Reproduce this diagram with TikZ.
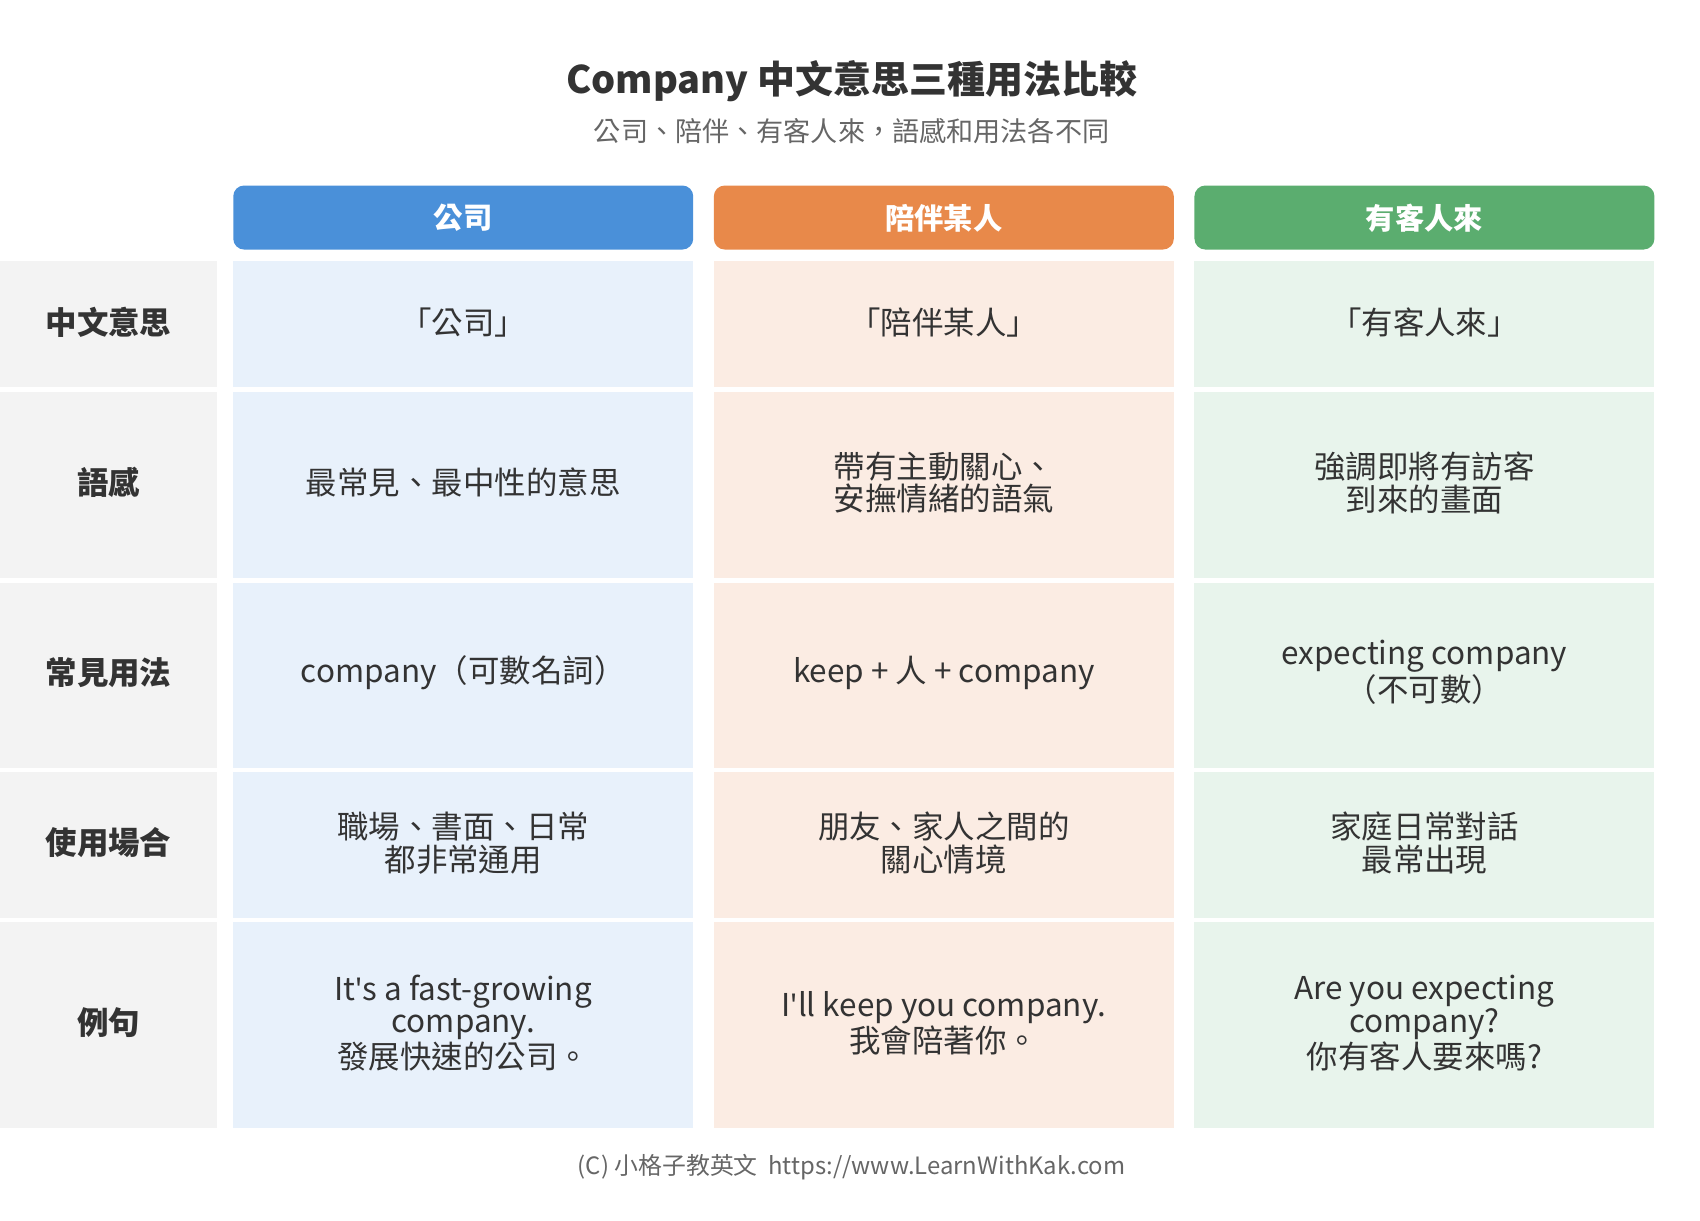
\documentclass[tikz,border=0pt]{standalone}
\usepackage{fontspec}
\setmainfont{Noto Sans CJK TC}
\newfontfamily\latfont{Noto Sans}
\usetikzlibrary{positioning}
\definecolor{txtcolor}{RGB}{51,51,51}
\definecolor{subcolor}{RGB}{102,102,102}
\definecolor{labelbg}{RGB}{243,243,243}
\definecolor{bluehead}{RGB}{74,144,217}
\definecolor{orangehead}{RGB}{232,137,74}
\definecolor{greenhead}{RGB}{91,173,111}
\definecolor{bluecell}{RGB}{232,241,251}
\definecolor{orangecell}{RGB}{251,236,227}
\definecolor{greencell}{RGB}{232,244,236}
\newcommand{\apos}{{\latfont\char"0027}}

\begin{document}
\begin{tikzpicture}[%
    x=0.5pt, y=-0.5pt,          % pixel grid, top-down
    every node/.style={text=txtcolor, font=\fontsize{14.5}{15}\selectfont},
    ]
\tikzset{
  head/.style={rounded corners=4pt, text=white, font=\bfseries\fontsize{13.5}{15}\selectfont},
  cell/.style={align=center},
  lab/.style={font=\bfseries\fontsize{14.5}{15}\selectfont},
}
\useasboundingbox (0,0) rectangle (1567,1125);

% title
\node (title) at (785,75) {\bfseries\fontsize{17.5}{19}\selectfont Company 中文意思三種用法比較};
\node[text=subcolor, font=\fontsize{12.5}{14}\selectfont] (sub) at (785,121) {公司、陪伴、有客人來，語感和用法各不同};

% headers
\fill[bluehead, rounded corners=5pt] (215,171) rectangle (639,230);
\fill[orangehead, rounded corners=5pt] (658,171) rectangle (1082,230);
\fill[greenhead, rounded corners=5pt] (1101,171) rectangle (1525,230);
\node[head] (h1) at (427,201) {公司};
\node[head] (h2) at (870,201) {陪伴某人};
\node[head] (h3) at (1313,201) {有客人來};

% backgrounds
\foreach \ya/\yb in {241/357, 361/533, 537/708, 712/846, 850/1040} {
  \fill[labelbg] (0,\ya) rectangle (200,\yb);
  \fill[bluecell] (215,\ya) rectangle (639,\yb);
  \fill[orangecell] (658,\ya) rectangle (1082,\yb);
  \fill[greencell] (1101,\ya) rectangle (1525,\yb);
}

% row labels
\node[lab] (r1) at (100,297) {中文意思};
\node[lab] (r2) at (100,445) {語感};
\node[lab] (r3) at (100,620) {常見用法};
\node[lab] (r4) at (100,777) {使用場合};
\node[lab] (r5) at (100,943) {例句};

% column 1
\node[cell] (a1) at (427,297) {「公司」};
\node[cell] (a2) at (427,445) {最常見、最中性的意思};
\node[cell] (a3) at (427,620) {company（可數名詞）};
\node[cell] (a4) at (427,777) {職場、書面、日常\\都非常通用};
\node[cell] (a5) at (427,943) {It\apos s a fast-growing\\company.\\發展快速的公司。};

% column 2
\node[cell] (b1) at (870,297) {「陪伴某人」};
\node[cell] (b2) at (870,445) {帶有主動關心、\\安撫情緒的語氣};
\node[cell] (b3) at (870,620) {keep + 人 + company};
\node[cell] (b4) at (870,777) {朋友、家人之間的\\關心情境};
\node[cell] (b5) at (870,943) {I\apos ll keep you company.\\我會陪著你。};

% column 3
\node[cell] (c1) at (1313,297) {「有客人來」};
\node[cell] (c2) at (1313,445) {強調即將有訪客\\到來的畫面};
\node[cell] (c3) at (1313,620) {expecting company\\（不可數）};
\node[cell] (c4) at (1313,777) {家庭日常對話\\最常出現};
\node[cell] (c5) at (1313,943) {Are you expecting\\company?\\你有客人要來嗎?};

% footer
\node[text=subcolor, font=\fontsize{11}{13}\selectfont] (foot) at (785,1076) {(C) 小格子教英文\ \ https://www.LearnWithKak.com};
\end{tikzpicture}
\end{document}
